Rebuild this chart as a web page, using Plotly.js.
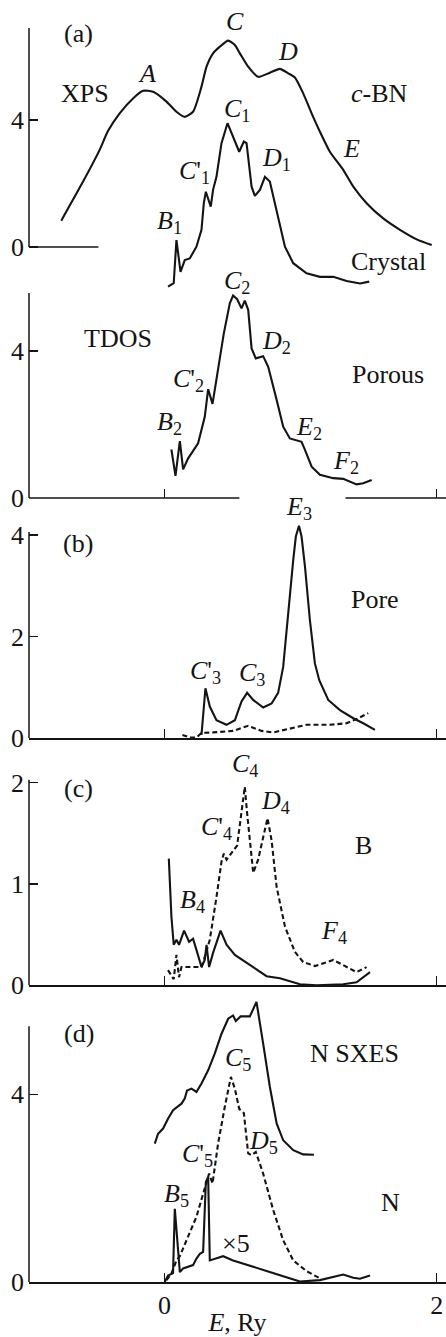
<!DOCTYPE html>
<html>
<head>
<meta charset="utf-8">
<script src="https://cdn.plot.ly/plotly-3.0.1.min.js"></script>
<style>
  html, body { margin: 0; padding: 0; background: #fff; }
  #chart { width: 446px; height: 1337px; }
</style>
</head>
<body>
<div id="chart"></div>
<script>
// ---- Spectra, energy E in Ry, intensity in arbitrary units ----

// (a) XPS valence band of c-BN
const xpsE = [-0.758,-0.598,-0.476,-0.415,-0.329,-0.231,-0.157,-0.084,0.015,0.088,0.149,0.21,0.272,0.309,0.357,0.407,0.468,0.517,0.554,0.615,0.688,0.774,0.848,0.909,0.958,1.019,1.081,1.142,1.215,1.313,1.387,1.485,1.607,1.73,1.853,1.963];
const xpsI = [0.83,2.06,3.06,3.65,4.21,4.68,4.92,4.89,4.58,4.26,4.10,4.26,5.05,5.68,6.10,6.31,6.50,6.36,6.10,5.68,5.36,5.49,5.61,5.47,5.34,4.84,4.21,3.63,3.00,2.43,1.90,1.38,0.90,0.54,0.24,0.06];

// (a) TDOS, crystal
const crystalE = [0.026,0.068,0.088,0.118,0.149,0.186,0.235,0.272,0.289,0.304,0.340,0.357,0.382,0.419,0.463,0.504,0.549,0.583,0.603,0.64,0.664,0.701,0.738,0.774,0.824,0.885,0.946,1.044,1.142,1.24,1.338,1.436,1.504];
const crystalI = [-1.25,-1.14,0.22,-0.78,-0.41,-0.36,0.01,0.54,1.38,1.74,1.27,1.80,2.21,3.27,3.90,3.47,3.00,3.32,3.27,1.90,1.61,1.80,2.21,2.06,1.17,0.01,-0.51,-0.83,-0.94,-0.94,-1.07,-1.15,-1.09];

// (a) TDOS, porous
const porousE = [0.051,0.081,0.113,0.137,0.174,0.247,0.296,0.321,0.353,0.394,0.436,0.48,0.504,0.534,0.566,0.59,0.615,0.64,0.671,0.725,0.762,0.824,0.872,0.921,1.007,1.032,1.081,1.142,1.24,1.313,1.411,1.46,1.522];
const porousI = [1.32,0.60,1.55,0.78,1.08,1.49,2.21,2.96,2.56,3.57,4.48,5.30,5.51,5.41,5.16,5.37,5.12,4.07,3.80,3.86,3.57,2.67,1.94,1.62,1.53,1.31,0.85,0.63,0.54,0.52,0.37,0.40,0.49];

// (b) pore states: solid and dashed
const poreE = [0.272,0.301,0.333,0.382,0.456,0.517,0.566,0.607,0.652,0.725,0.787,0.835,0.872,0.909,0.946,0.965,0.988,1.007,1.032,1.068,1.105,1.137,1.186,1.203,1.289,1.387,1.46,1.546];
const poreI = [0.06,0.98,0.62,0.35,0.26,0.35,0.72,0.89,0.75,0.60,0.68,0.89,1.40,2.52,3.51,3.97,4.18,3.97,3.38,2.33,1.47,1.14,0.85,0.75,0.55,0.39,0.29,0.16];
const poreDashE = [0.132,0.186,0.235,0.272,0.357,0.504,0.615,0.713,0.799,0.921,1.044,1.215,1.338,1.424,1.497];
const poreDashI = [0.06,0.01,0.01,0.10,0.11,0.14,0.24,0.14,0.11,0.19,0.26,0.26,0.29,0.39,0.49];

// (c) boron partial DOS: solid and dashed
const boronE = [0.032,0.051,0.068,0.088,0.107,0.144,0.181,0.21,0.235,0.272,0.296,0.309,0.328,0.357,0.412,0.456,0.517,0.603,0.701,0.75,0.848,0.995,1.117,1.313,1.411,1.51];
const boronI = [1.25,0.68,0.40,0.45,0.40,0.54,0.43,0.46,0.35,0.18,0.25,0.40,0.18,0.32,0.54,0.40,0.30,0.22,0.13,0.09,0.07,0.01,0.00,0.01,0.03,0.13];
const boronDashE = [0.026,0.068,0.088,0.107,0.125,0.162,0.272,0.296,0.333,0.382,0.419,0.436,0.456,0.534,0.59,0.607,0.652,0.688,0.725,0.757,0.787,0.824,0.885,0.958,1.019,1.105,1.24,1.338,1.411,1.485];
const boronDashI = [0.15,0.06,0.30,0.08,0.18,0.18,0.18,0.28,0.45,0.87,1.22,1.30,1.24,1.38,1.96,1.70,1.11,1.24,1.47,1.65,1.43,0.97,0.58,0.33,0.23,0.19,0.25,0.18,0.13,0.18];

// (d) N SXES, nitrogen partial DOS (dashed) and pore contribution x5 (solid)
const sxesE = [-0.071,-0.047,-0.01,0.026,0.063,0.125,0.149,0.166,0.199,0.235,0.272,0.321,0.37,0.419,0.468,0.504,0.524,0.559,0.627,0.676,0.725,0.774,0.824,0.872,0.946,1.019,1.098];
const sxesI = [2.95,3.16,3.27,3.48,3.66,3.80,3.91,4.08,4.12,4.05,4.23,4.51,4.87,5.29,5.61,5.68,5.56,5.66,5.66,5.97,5.08,4.16,3.38,3.02,2.81,2.72,2.71];
const nitroDashE = [0.015,0.051,0.088,0.113,0.162,0.235,0.284,0.328,0.353,0.394,0.443,0.488,0.517,0.549,0.583,0.615,0.64,0.671,0.725,0.799,0.872,0.946,1.044,1.147];
const nitroDashI = [0.04,0.18,0.46,0.55,0.89,1.39,1.88,2.31,2.10,2.95,3.73,4.37,4.12,3.69,3.60,2.74,2.70,2.77,2.31,1.53,0.89,0.46,0.23,0.07];
const nitroE = [0.002,0.026,0.063,0.076,0.113,0.137,0.21,0.235,0.26,0.284,0.304,0.321,0.333,0.431,0.504,0.701,0.872,0.995,1.142,1.24,1.313,1.387,1.436,1.51];
const nitroI = [0.00,0.14,0.19,1.56,0.21,0.29,0.36,0.50,0.60,0.64,2.13,2.24,0.46,0.55,0.46,0.28,0.11,0.01,0.04,0.11,0.16,0.09,0.07,0.14];

// Axis tick values
const xTicks = [0, 2];
const xTickText = ['0', '2'];
const yTicksA = [0, 4];
const yTicksP = [0, 4];
const yTicksB = [0, 2, 4];
const yTicksC = [0, 1, 2];
const yTicksD = [0, 4];

// ---- Layout geometry ----
const INK = '#141414';
const FONT = 'Liberation Serif, Times New Roman, serif';
const FS = 26;
const PH = 1282;                 // plot area height (top margin 0)
const XR = [-0.995, 2.068];      // energy range across the plot width

// Each panel: pixel extent of its subplot, pixel of its zero, px per unit, axis line top (data units)
const panels = {
  A: {top: 0,   bottom: 292,  zero: 247,   scale: 31.75, lineTop: 6.9},
  P: {top: 268, bottom: 498,  zero: 498,   scale: 36.75, lineTop: 5.58},
  B: {top: 500, bottom: 738,  zero: 738,   scale: 50.75, lineTop: 4.06},
  C: {top: 745, bottom: 985.3,zero: 985.3, scale: 101.3, lineTop: 2.03},
  D: {top: 990, bottom: 1282, zero: 1282,  scale: 46.93, lineTop: 5.45}
};
const domainOf = p => [(PH - p.bottom) / PH, (PH - p.top) / PH];
const rangeOf = p => [(p.zero - p.bottom) / p.scale, (p.zero - p.top) / p.scale];
const paperY = (p, v) => (PH - (p.zero - v * p.scale)) / PH;
const paperX = v => (v - XR[0]) / (XR[1] - XR[0]);

const solid = {color: INK, width: 2.1};
const dashed = {color: INK, width: 2.1, dash: '5px,3px'};

function tr(x, y, xa, ya, line, shape) {
  return {x: x, y: y, xaxis: xa, yaxis: ya, type: 'scatter', mode: 'lines',
          line: Object.assign({}, line, shape ? {shape: shape, smoothing: 0.6} : {}),
          hoverinfo: 'skip', showlegend: false};
}

const data = [
  tr(xpsE, xpsI, 'x5', 'y', solid, 'spline'),
  tr(crystalE, crystalI, 'x5', 'y', solid),
  tr(porousE, porousI, 'x2', 'y2', solid),
  tr(poreE, poreI, 'x3', 'y3', solid),
  tr(poreDashE, poreDashI, 'x3', 'y3', dashed),
  tr(boronE, boronI, 'x4', 'y4', solid),
  tr(boronDashE, boronDashI, 'x4', 'y4', dashed),
  tr(sxesE, sxesI, 'x', 'y5', solid),
  tr(nitroDashE, nitroDashI, 'x', 'y5', dashed),
  tr(nitroE, nitroI, 'x', 'y5', solid)
];

const tickFont = {family: FONT, size: FS, color: INK};

function yAxis(p, ticks, anchor) {
  return {domain: domainOf(p), range: rangeOf(p), anchor: anchor,
          tickmode: 'array', tickvals: ticks, ticktext: ticks.map(String),
          ticks: 'inside', ticklen: 9, tickwidth: 1.5, tickcolor: INK,
          tickfont: tickFont, ticklabelstandoff: 4,
          showline: false, showgrid: false, zeroline: false, fixedrange: true};
}
function xAxis(anchor, opts) {
  return Object.assign({anchor: anchor, matches: 'x', domain: [0, 1],
          tickmode: 'array', tickvals: xTicks, ticktext: xTickText,
          ticks: 'inside', ticklen: 9, tickwidth: 1.5, tickcolor: INK,
          showticklabels: false, showline: true, linewidth: 1.5, linecolor: INK,
          showgrid: false, zeroline: false, fixedrange: true}, opts || {});
}

// Axis lines that cover only part of a panel
const shapes = [];
function vline(p) {
  shapes.push({type: 'line', xref: 'paper', yref: 'paper', x0: 0, x1: 0,
               y0: paperY(p, 0), y1: paperY(p, p.lineTop), line: {color: INK, width: 1.5}});
}
function hline(p, xa, xb) {
  shapes.push({type: 'line', xref: 'paper', yref: 'paper', x0: paperX(xa), x1: paperX(xb),
               y0: paperY(p, 0), y1: paperY(p, 0), line: {color: INK, width: 1.5}});
}
Object.values(panels).forEach(vline);
hline(panels.A, XR[0], -0.485);
hline(panels.P, XR[0], 0.55);
hline(panels.P, 1.33, XR[1]);

// Text labels, placed in each panel's data units
const labels = [
  ['(a)', -0.635, 6.73, 'y'], ['XPS', -0.586, 4.84, 'y'], ['<i>A</i>', -0.125, 5.45, 'y'],
  ['<i>C</i>', 0.517, 7.10, 'y'], ['<i>D</i>', 0.909, 6.15, 'y'], ['<i>c</i>-BN', 1.583, 4.84, 'y'],
  ['<i>C</i><sub>1</sub>', 0.53, 4.31, 'y'], ['<i>E</i>', 1.375, 3.11, 'y'],
  ["<i>C</i>'<sub>1</sub>", 0.223, 2.37, 'y'], ['<i>D</i><sub>1</sub>', 0.82, 2.76, 'y'],
  ['<i>B</i><sub>1</sub>', 0.04, 0.80, 'y'], ['Crystal', 1.644, -0.46, 'y'],

  ['<i>C</i><sub>2</sub>', 0.535, 5.89, 'y2'], ['TDOS', -0.341, 4.35, 'y2'],
  ["<i>C</i>'<sub>2</sub>", 0.18, 3.21, 'y2'], ['<i>D</i><sub>2</sub>', 0.82, 4.25, 'y2'],
  ['Porous', 1.644, 3.35, 'y2'], ['<i>B</i><sub>2</sub>', 0.035, 2.03, 'y2'],
  ['<i>E</i><sub>2</sub>', 1.06, 1.90, 'y2'], ['<i>F</i><sub>2</sub>', 1.33, 0.99, 'y2'],

  ['<i>E</i><sub>3</sub>', 0.985, 4.53, 'y3'], ['(b)', -0.635, 3.84, 'y3'], ['Pore', 1.546, 2.73, 'y3'],
  ["<i>C</i>'<sub>3</sub>", 0.304, 1.31, 'y3'], ['<i>C</i><sub>3</sub>', 0.645, 1.27, 'y3'],

  ['(c)', -0.635, 1.94, 'y4'], ['<i>C</i><sub>4</sub>', 0.59, 2.17, 'y4'], ['<i>D</i><sub>4</sub>', 0.815, 1.81, 'y4'],
  ["<i>C</i>'<sub>4</sub>", 0.385, 1.55, 'y4'], ['B', 1.46, 1.38, 'y4'],
  ['<i>B</i><sub>4</sub>', 0.205, 0.83, 'y4'], ['<i>F</i><sub>4</sub>', 1.245, 0.53, 'y4'],

  ['(d)', -0.628, 5.29, 'y5'], ['N SXES', 1.399, 4.87, 'y5'], ['<i>C</i><sub>5</sub>', 0.54, 4.76, 'y5'],
  ['<i>D</i><sub>5</sub>', 0.73, 2.98, 'y5'], ["<i>C</i>'<sub>5</sub>", 0.245, 2.70, 'y5'],
  ['<i>B</i><sub>5</sub>', 0.09, 1.85, 'y5'], ['N', 1.657, 1.70, 'y5'], ['×5', 0.529, 0.82, 'y5']
];
const annotations = labels.map(([t, x, y, ya]) => ({
  text: t, x: x, y: y, xref: 'x', yref: ya, showarrow: false,
  xanchor: 'center', yanchor: 'middle', font: {family: FONT, size: FS, color: INK}
}));

const layout = {
  width: 446, height: 1337,
  margin: {l: 29, r: 0, t: 0, b: 55, pad: 0},
  paper_bgcolor: '#fff', plot_bgcolor: 'rgba(0,0,0,0)',
  font: {family: FONT, size: FS, color: INK},
  showlegend: false,
  xaxis: xAxis('y5', {range: XR, showticklabels: true, tickfont: tickFont,
                       ticklabelstandoff: -1,
                       title: {text: '<i>E</i>, Ry', font: {family: FONT, size: FS, color: INK}, standoff: 8}}),
  xaxis2: xAxis('y2', {showline: false}),
  xaxis3: xAxis('y3'),
  xaxis4: xAxis('y4'),
  xaxis5: xAxis('y', {showline: false, ticks: ''}),
  yaxis: yAxis(panels.A, yTicksA, 'x5'),
  yaxis2: yAxis(panels.P, yTicksP, 'x2'),
  yaxis3: yAxis(panels.B, yTicksB, 'x3'),
  yaxis4: yAxis(panels.C, yTicksC, 'x4'),
  yaxis5: yAxis(panels.D, yTicksD, 'x'),
  shapes: shapes,
  annotations: annotations
};
delete layout.xaxis.matches;

Plotly.newPlot('chart', data, layout, {displayModeBar: false, staticPlot: true});
</script>
</body>
</html>
